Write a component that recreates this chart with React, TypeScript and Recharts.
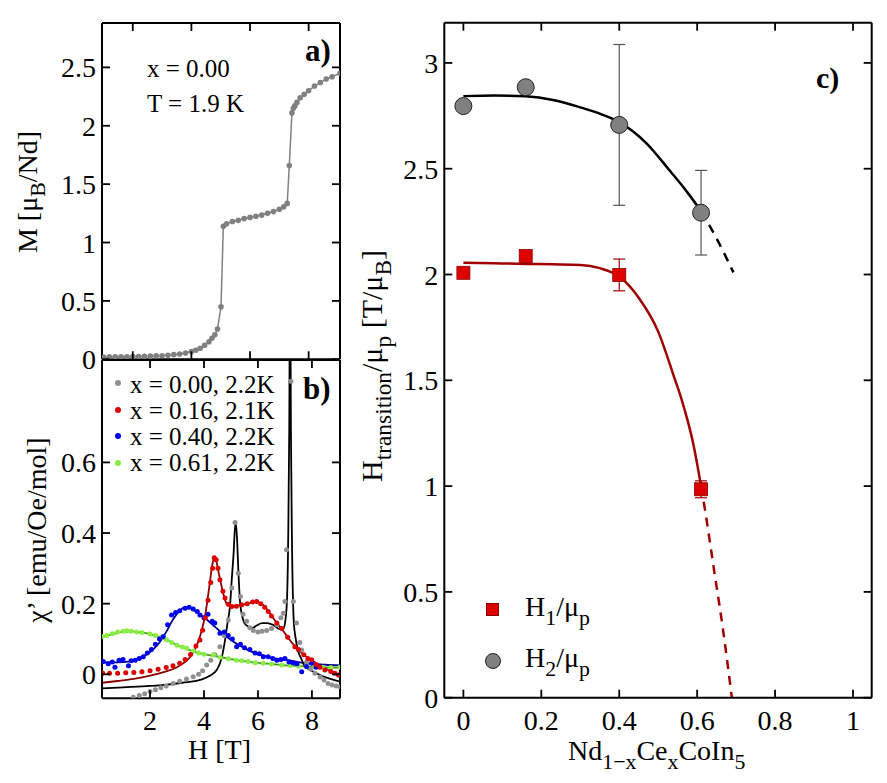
import React from 'react';
import { LineChart, Line, ComposedChart, Scatter, ErrorBar, XAxis, YAxis } from 'recharts';

const SERIF = '"Liberation Serif", "Times New Roman", serif';

// a) magnetisation of NdCoIn5, T = 1.9 K
const aField = [
  1.0, 1.2, 1.4, 1.6, 1.8, 2.0, 2.2, 2.4, 2.6, 2.8, 3.0, 3.2, 3.4, 3.6, 3.8, 4.0, 4.15, 4.3, 4.45, 4.6,
  4.7, 4.8, 4.89, 5.01, 5.09, 5.2, 5.4, 5.6, 5.8, 6.0, 6.2, 6.4, 6.6, 6.8, 7.0, 7.15, 7.27, 7.34, 7.43,
  7.48, 7.53, 7.6, 7.71, 7.85, 8.0, 8.2, 8.4, 8.6, 8.8, 9.07,
];
const aMoment = [
  0.02, 0.021, 0.021, 0.022, 0.022, 0.023, 0.024, 0.025, 0.027, 0.029, 0.031, 0.035, 0.04, 0.046, 0.054,
  0.066, 0.078, 0.095, 0.12, 0.15, 0.18, 0.21, 0.26, 0.45, 1.14, 1.16, 1.18, 1.19, 1.205, 1.215, 1.225,
  1.235, 1.25, 1.265, 1.285, 1.305, 1.335, 1.66, 2.11, 2.15, 2.17, 2.2, 2.24, 2.27, 2.3, 2.34, 2.37, 2.4,
  2.42, 2.45,
];
const aXTicks = [2, 4, 6, 8];
const aYTicks = [0, 0.5, 1, 1.5, 2, 2.5];

// b) chi' vs H, measured points [H, chi]
const grayDots: [number, number][] = [
  [1.38, -0.065], [1.6, -0.06], [1.8, -0.055], [2.0, -0.049], [2.2, -0.044], [2.4, -0.038], [2.6, -0.033],
  [2.86, -0.026], [3.1, -0.02], [3.35, -0.013], [3.6, -0.007], [3.8, 0.0], [3.95, 0.01], [4.1, 0.026],
  [4.25, 0.04], [4.4, 0.055], [4.59, 0.078], [4.75, 0.11], [4.9, 0.154], [5.03, 0.244], [5.15, 0.43],
  [5.27, 0.286], [5.35, 0.22], [5.45, 0.17], [5.58, 0.15], [5.7, 0.132], [5.83, 0.124], [6.0, 0.12],
  [6.15, 0.122], [6.32, 0.124], [6.5, 0.13], [6.7, 0.14], [6.85, 0.16], [6.94, 0.173], [7.0, 0.206],
  [7.06, 0.353], [7.22, 0.83], [7.31, 0.206], [7.43, 0.145], [7.55, 0.09], [7.62, 0.069], [7.8, 0.034],
  [7.95, 0.015], [8.11, 0.003], [8.3, -0.008], [8.45, -0.016], [8.6, -0.026], [8.75, -0.03],
  [8.9, -0.033], [9.04, -0.035],
];
const redDots: [number, number][] = [
  [0.25, 0.003], [0.5, 0.003], [0.8, 0.003], [1.1, 0.004], [1.4, 0.005], [1.7, 0.007], [2.0, 0.01],
  [2.3, 0.014], [2.6, 0.019], [2.85, 0.024], [3.1, 0.031], [3.3, 0.042], [3.5, 0.056], [3.7, 0.08],
  [3.85, 0.097], [3.95, 0.125], [4.05, 0.16], [4.15, 0.21], [4.25, 0.26], [4.32, 0.3], [4.38, 0.33],
  [4.45, 0.324], [4.52, 0.3], [4.59, 0.268], [4.7, 0.235], [4.78, 0.216], [4.9, 0.198], [5.03, 0.192],
  [5.2, 0.193], [5.4, 0.197], [5.6, 0.2], [5.8, 0.205], [5.95, 0.206], [6.1, 0.2], [6.25, 0.19],
  [6.38, 0.178], [6.5, 0.165], [6.7, 0.145], [6.88, 0.13], [7.1, 0.105], [7.37, 0.078], [7.5, 0.07],
  [7.7, 0.055], [7.85, 0.045], [7.99, 0.041], [8.15, 0.028], [8.3, 0.02], [8.48, 0.012], [8.7, 0.008],
  [8.85, 0.003], [8.98, -0.002],
];
const blueDots: [number, number][] = [
  [0.27, 0.036], [0.45, 0.03], [0.6, 0.035], [0.7, 0.02], [0.85, 0.04], [1.0, 0.042], [1.2, 0.024],
  [1.3, 0.038], [1.45, 0.04], [1.6, 0.045], [1.75, 0.05], [1.9, 0.06], [2.05, 0.07], [2.2, 0.085],
  [2.35, 0.1], [2.49, 0.107], [2.65, 0.14], [2.8, 0.168], [2.95, 0.175], [3.1, 0.18], [3.3, 0.187],
  [3.45, 0.19], [3.6, 0.185], [3.75, 0.178], [3.85, 0.168], [4.0, 0.16], [4.15, 0.17], [4.3, 0.15],
  [4.4, 0.145], [4.59, 0.116], [4.75, 0.12], [4.9, 0.11], [5.05, 0.1], [5.21, 0.078], [5.35, 0.085],
  [5.5, 0.075], [5.7, 0.07], [5.89, 0.06], [6.05, 0.058], [6.2, 0.05], [6.38, 0.05], [6.55, 0.045],
  [6.7, 0.04], [6.85, 0.042], [7.0, 0.045], [7.15, 0.035], [7.3, 0.033], [7.45, 0.03], [7.62, 0.007],
  [7.8, 0.022], [7.99, 0.031], [8.15, 0.02],
];
const greenDots: [number, number][] = [
  [0.22, 0.107], [0.4, 0.11], [0.6, 0.115], [0.8, 0.12], [1.0, 0.122], [1.14, 0.123], [1.3, 0.122],
  [1.5, 0.12], [1.7, 0.118], [2.0, 0.114], [2.2, 0.11], [2.4, 0.104], [2.62, 0.097], [2.8, 0.09],
  [3.0, 0.082], [3.2, 0.077], [3.36, 0.074], [3.6, 0.066], [3.8, 0.06], [4.0, 0.057], [4.35, 0.055],
  [4.6, 0.048], [4.9, 0.044], [5.2, 0.04], [5.4, 0.038], [5.64, 0.036], [5.9, 0.033], [6.2, 0.031],
  [6.5, 0.029], [6.88, 0.026], [7.2, 0.025], [7.5, 0.023], [7.8, 0.022], [8.1, 0.021], [8.4, 0.02],
  [8.7, 0.019], [9.04, 0.02],
];

// b) fitted curves [H, chi]
const grayFit: [number, number][] = [
  [0.22, -0.04], [1.0, -0.037], [2.0, -0.033], [2.54, -0.03], [3.2, -0.024], [3.85, -0.016],
  [4.2, -0.005], [4.47, 0.012], [4.65, 0.045], [4.78, 0.097], [4.88, 0.15], [4.96, 0.19], [5.03, 0.27],
  [5.09, 0.334], [5.17, 0.433], [5.22, 0.39], [5.27, 0.3], [5.33, 0.21], [5.4, 0.17], [5.5, 0.145],
  [5.64, 0.135], [5.77, 0.13], [5.95, 0.138], [6.15, 0.145], [6.35, 0.145], [6.56, 0.14], [6.81, 0.128],
  [6.94, 0.13], [7.02, 0.155], [7.08, 0.22], [7.12, 0.38], [7.16, 0.7], [7.19, 1.2], [7.22, 0.7],
  [7.26, 0.38], [7.33, 0.145], [7.4, 0.1], [7.49, 0.065], [7.6, 0.045], [7.74, 0.022], [8.05, 0.008],
  [8.3, -0.002], [8.6, -0.011], [9.04, -0.021],
];
const redFit: [number, number][] = [
  [0.22, -0.024], [0.8, -0.019], [1.4, -0.013], [2.0, -0.004], [2.5, 0.006], [3.0, 0.02], [3.3, 0.035],
  [3.55, 0.055], [3.75, 0.085], [3.9, 0.12], [4.05, 0.17], [4.2, 0.25], [4.32, 0.315], [4.38, 0.33],
  [4.45, 0.322], [4.55, 0.285], [4.65, 0.25], [4.78, 0.21], [4.9, 0.195], [5.05, 0.193], [5.3, 0.195],
  [5.6, 0.2], [5.95, 0.206], [6.2, 0.196], [6.4, 0.178], [6.65, 0.15], [6.9, 0.127], [7.15, 0.1],
  [7.4, 0.077], [7.7, 0.055], [8.0, 0.04], [8.3, 0.024], [8.6, 0.012], [9.04, -0.002],
];
const blueFit: [number, number][] = [
  [0.22, 0.034], [0.8, 0.034], [1.2, 0.036], [1.6, 0.045], [2.0, 0.063], [2.3, 0.085], [2.6, 0.12],
  [2.85, 0.155], [3.1, 0.18], [3.3, 0.19], [3.5, 0.187], [3.8, 0.172], [4.1, 0.155], [4.4, 0.135],
  [4.7, 0.115], [5.0, 0.097], [5.3, 0.082], [5.6, 0.07], [5.9, 0.06], [6.2, 0.053], [6.5, 0.047],
  [6.8, 0.043], [7.1, 0.04], [7.4, 0.036], [7.7, 0.032], [8.0, 0.03], [8.5, 0.027], [9.04, 0.025],
];
const greenFit: [number, number][] = [
  [0.22, 0.105], [0.6, 0.113], [1.0, 0.121], [1.2, 0.122], [1.6, 0.119], [2.0, 0.114], [2.4, 0.104],
  [2.8, 0.09], [3.2, 0.076], [3.6, 0.065], [4.0, 0.057], [4.5, 0.05], [5.0, 0.043], [5.6, 0.036],
  [6.2, 0.031], [6.9, 0.026], [7.6, 0.023], [8.3, 0.02], [9.04, 0.018],
];
const bXTicks = [2, 4, 6, 8];
const bYTicks = [0, 0.2, 0.4, 0.6];
const bLegend = ['x = 0.00, 2.2K', 'x = 0.16, 2.1K', 'x = 0.40, 2.2K', 'x = 0.61, 2.2K'];
const bDotColors = ['#909090', '#dd0000', '#0000ee', '#88ee44'];

// c) transition fields vs Ce content
const cx = [0, 0.16, 0.4, 0.61];
const h1 = [2.008, 2.087, 1.998, 0.985];
const h1Err = [0, 0, 0.075, 0.04];
const h2 = [2.796, 2.885, 2.707, 2.292];
const h2Err = [0, 0, 0.38, 0.2];
const h1Solid: [number, number][] = [
  [0, 2.056], [0.08, 2.053], [0.16, 2.05], [0.23, 2.048], [0.3, 2.045], [0.35, 2.03], [0.4, 1.99],
  [0.45, 1.89], [0.5, 1.73], [0.54, 1.52], [0.56, 1.41], [0.59, 1.2], [0.61, 1.0],
];
const h1Dash: [number, number][] = [[0.61, 1.0], [0.62, 0.89], [0.642, 0.62], [0.668, 0.3], [0.689, 0]];
const h2Solid: [number, number][] = [
  [0, 2.843], [0.08, 2.846], [0.16, 2.842], [0.23, 2.825], [0.3, 2.79], [0.35, 2.76], [0.4, 2.72],
  [0.47, 2.62], [0.53, 2.49], [0.57, 2.4], [0.61, 2.3],
];
const h2Dash: [number, number][] = [[0.61, 2.3], [0.65, 2.17], [0.693, 2.01]];
const cXTicks = [0, 0.2, 0.4, 0.6, 0.8, 1];
const cYTicks = [0, 0.5, 1, 1.5, 2, 2.5, 3];

const pts = (a: [number, number][]) => a.map(([x, y]) => ({ x, y }));

type Side = 'left' | 'right' | 'top' | 'bottom';
const tickFn = (side: Side, showLabel = false) => (props: any) => {
  const { x, y, payload } = props;
  const L = 8;
  const dx = side === 'left' ? L : side === 'right' ? -L : 0;
  const dy = side === 'bottom' ? -L : side === 'top' ? L : 0;
  return (
    <g>
      <line x1={x} y1={y} x2={x + dx} y2={y + dy} stroke="#000" strokeWidth={1.8} />
      {showLabel && (
        <text
          x={side === 'left' ? x - 6 : x}
          y={side === 'left' ? y + 10 : y + 32}
          textAnchor={side === 'left' ? 'end' : 'middle'}
          fontFamily="Liberation Serif"
          fontSize={28}
          fill="#000"
        >
          {String(payload.value)}
        </text>
      )}
    </g>
  );
};

const frame = {
  type: 'number' as const,
  tickLine: false,
  axisLine: { stroke: '#000', strokeWidth: 2 },
  tickSize: 0,
  tickMargin: 0,
  interval: 0 as const,
  allowDataOverflow: true,
};

const Sub = ({ children }: { children: React.ReactNode }) => (
  <span style={{ fontSize: '0.78em', position: 'relative', top: '0.38em' }}>{children}</span>
);

const Txt = ({ x, y, size = 28, bold = false, children }: any) => (
  <div
    style={{
      position: 'absolute', left: x, top: y - 0.84 * size, fontSize: size, lineHeight: 1,
      fontFamily: SERIF, fontWeight: bold ? 'bold' : 'normal', whiteSpace: 'nowrap',
    }}
  >
    {children}
  </div>
);

const VTxt = ({ x, y, size = 28, children }: any) => (
  <div
    style={{
      position: 'absolute', left: x, top: y, fontSize: size, lineHeight: 1, fontFamily: SERIF,
      whiteSpace: 'nowrap', transform: 'translate(-50%, -50%) rotate(-90deg)',
    }}
  >
    {children}
  </div>
);

const dotShape = (color: string, r = 2.5) => (p: any) => <circle cx={p.cx} cy={p.cy} r={r} fill={color} />;

export default function App() {
  const aData = aField.map((h, i) => ({ h, m: aMoment[i] }));
  const h1Pts = cx.map((x, i) => ({ x, y: h1[i], err: [h1Err[i], h1Err[i]] }));
  const h2Pts = cx.map((x, i) => ({ x, y: h2[i], err: [h2Err[i], h2Err[i]] }));
  const chartFont = { fontFamily: SERIF };

  return (
    <div style={{ position: 'absolute', left: 0, top: 0, width: 887, height: 783, background: '#fff', fontFamily: SERIF }}>
      {/* a) */}
      <div style={{ position: 'absolute', left: 0, top: 0 }}>
        <LineChart width={350} height={380} data={aData} style={chartFont} margin={{ top: 22, right: 9, bottom: 19.7, left: 0 }}>
          <XAxis dataKey="h" {...frame} domain={[0.95, 9.07]} ticks={aXTicks} height={1} tick={tickFn('bottom')} />
          <XAxis xAxisId="top" orientation="top" dataKey="h" {...frame} domain={[0.95, 9.07]} ticks={aXTicks} height={1} tick={tickFn('top')} />
          <YAxis {...frame} domain={[0, 2.88]} ticks={aYTicks} width={102} tick={tickFn('left', true)} />
          <YAxis yAxisId="right" orientation="right" {...frame} domain={[0, 2.88]} ticks={aYTicks} width={1} tick={tickFn('right')} />
          <Line dataKey="m" stroke="#808080" strokeWidth={1.5} dot={{ r: 2.8, fill: '#808080', stroke: 'none' }} isAnimationActive={false} />
        </LineChart>
      </div>

      {/* b) */}
      <div style={{ position: 'absolute', left: 0, top: 340 }}>
        <ComposedChart width={350} height={400} style={chartFont} margin={{ top: 19, right: 9, bottom: 40.7, left: 0 }}>
          <XAxis dataKey="x" {...frame} domain={[0.22, 9.04]} ticks={bXTicks} height={1} tick={tickFn('bottom', true)} />
          <XAxis xAxisId="top" orientation="top" dataKey="x" {...frame} domain={[0.22, 9.04]} ticks={bXTicks} height={1} tick={tickFn('top')} />
          <YAxis {...frame} domain={[-0.068, 0.89]} ticks={bYTicks} width={102} tick={tickFn('left', true)} />
          <YAxis yAxisId="right" orientation="right" {...frame} domain={[-0.068, 0.89]} ticks={bYTicks} width={1} tick={tickFn('right')} />
          <Scatter data={pts(grayDots)} dataKey="y" shape={dotShape(bDotColors[0])} isAnimationActive={false} />
          <Scatter data={pts(greenDots)} dataKey="y" shape={dotShape(bDotColors[3])} isAnimationActive={false} />
          <Scatter data={pts(blueDots)} dataKey="y" shape={dotShape(bDotColors[2])} isAnimationActive={false} />
          <Scatter data={pts(redDots)} dataKey="y" shape={dotShape(bDotColors[1])} isAnimationActive={false} />
          <Line data={pts(greenFit)} dataKey="y" type="monotone" stroke="#4c9a1c" strokeWidth={1.8} dot={false} isAnimationActive={false} />
          <Line data={pts(blueFit)} dataKey="y" type="monotone" stroke="#00008c" strokeWidth={1.8} dot={false} isAnimationActive={false} />
          <Line data={pts(redFit)} dataKey="y" type="monotone" stroke="#8b0000" strokeWidth={1.8} dot={false} isAnimationActive={false} />
          <Line data={pts(grayFit)} dataKey="y" type="monotone" stroke="#000" strokeWidth={1.8} dot={false} isAnimationActive={false} />
        </ComposedChart>
      </div>

      {/* c) */}
      <div style={{ position: 'absolute', left: 380, top: 0 }}>
        <ComposedChart width={507} height={783} style={chartFont} margin={{ top: 21.7, right: 14.3, bottom: 84.3, left: 0 }}>
          <XAxis dataKey="x" {...frame} domain={[-0.049, 1.048]} ticks={cXTicks} height={1} tick={tickFn('bottom', true)} />
          <XAxis xAxisId="top" orientation="top" dataKey="x" {...frame} domain={[-0.049, 1.048]} ticks={cXTicks} height={1} tick={tickFn('top')} />
          <YAxis {...frame} domain={[0, 3.19]} ticks={cYTicks} width={64.3} tick={tickFn('left', true)} />
          <YAxis yAxisId="right" orientation="right" {...frame} domain={[0, 3.19]} ticks={cYTicks} width={1} tick={tickFn('right')} />
          <Line data={pts(h2Solid)} dataKey="y" type="monotone" stroke="#000" strokeWidth={2.5} dot={false} isAnimationActive={false} />
          <Line data={pts(h2Dash)} dataKey="y" type="monotone" stroke="#000" strokeWidth={2.5} strokeDasharray="9 7" dot={false} isAnimationActive={false} />
          <Line data={pts(h1Solid)} dataKey="y" type="monotone" stroke="#a00000" strokeWidth={2.5} dot={false} isAnimationActive={false} />
          <Line data={pts(h1Dash)} dataKey="y" type="monotone" stroke="#a00000" strokeWidth={2.5} strokeDasharray="9 7" dot={false} isAnimationActive={false} />
          <Scatter
            data={h2Pts}
            dataKey="y"
            isAnimationActive={false}
            shape={(p: any) => <circle cx={p.cx} cy={p.cy} r={8.5} fill="#808080" stroke="#222" strokeWidth={1} />}
          >
            <ErrorBar dataKey="err" direction="y" width={6} stroke="#555" strokeWidth={1.2} />
          </Scatter>
          <Scatter
            data={h1Pts}
            dataKey="y"
            isAnimationActive={false}
            shape={(p: any) => <rect x={p.cx - 6.5} y={p.cy - 6.5} width={13} height={13} fill="#dd0000" stroke="#880000" strokeWidth={0.8} />}
          >
            <ErrorBar dataKey="err" direction="y" width={6} stroke="#a00000" strokeWidth={1.2} />
          </Scatter>
        </ComposedChart>
      </div>

      {/* panel a texts */}
      <Txt x={147} y={77} size={25}>x = 0.00</Txt>
      <Txt x={147} y={112} size={25}>T = 1.9 K</Txt>
      <Txt x={305} y={61} size={31} bold>a)</Txt>
      <VTxt x={28} y={192}>M [μ<Sub>B</Sub>/Nd]</VTxt>

      {/* panel b texts */}
      <Txt x={303} y={399} size={31} bold>b)</Txt>
      <VTxt x={37} y={530}>χ’ [emu/Oe/mol]</VTxt>
      <Txt x={188} y={760}>H [T]</Txt>
      {bLegend.map((t, i) => (
        <React.Fragment key={t}>
          <div
            style={{
              position: 'absolute', left: 118 - 3, top: 383 + i * 26.7 - 3, width: 6, height: 6,
              borderRadius: 3, background: bDotColors[i],
            }}
          />
          <Txt x={130} y={393 + i * 26} size={25}>{t}</Txt>
        </React.Fragment>
      ))}

      {/* panel c texts */}
      <Txt x={816} y={88} size={30} bold>c)</Txt>
      <VTxt x={372} y={366} size={30}>
        H<Sub>transition</Sub>/μ<Sub>p</Sub> [T/μ<Sub>B</Sub>]
      </VTxt>
      <Txt x={568} y={761}>
        Nd<Sub>1−x</Sub>Ce<Sub>x</Sub>CoIn<Sub>5</Sub>
      </Txt>
      <div
        style={{
          position: 'absolute', left: 486, top: 603, width: 13, height: 13, background: '#dd0000',
          boxSizing: 'border-box', border: '0.8px solid #880000',
        }}
      />
      <Txt x={525} y={617}>H<Sub>1</Sub>/μ<Sub>p</Sub></Txt>
      <div
        style={{
          position: 'absolute', left: 484.5, top: 653, width: 16, height: 16, borderRadius: 8,
          background: '#808080', boxSizing: 'border-box', border: '1px solid #222',
        }}
      />
      <Txt x={525} y={668}>H<Sub>2</Sub>/μ<Sub>p</Sub></Txt>
    </div>
  );
}
